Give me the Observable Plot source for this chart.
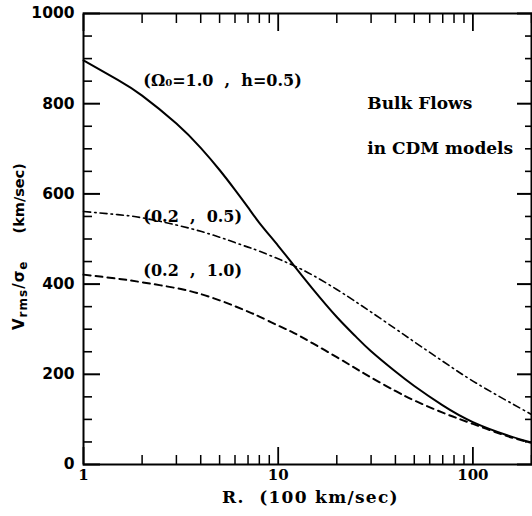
<!DOCTYPE html>
<html>
<head>
<meta charset="utf-8">
<script src="https://cdn.jsdelivr.net/npm/d3@7"></script>
<script src="https://cdn.jsdelivr.net/npm/@observablehq/plot@0.6"></script>
<style>
  html, body { margin: 0; padding: 0; background: #fff; }
  #chart { width: 532px; height: 516px; }
</style>
</head>
<body>
<div id="chart"></div>
<script>
// ---- data ----
const radius   = [1, 1.5, 2, 3, 4, 5, 6, 7, 8, 10, 12, 15, 20, 25, 30, 40, 50, 70, 100, 150, 200];
const vOmega1  = [896, 853, 818, 756, 702, 653, 609, 570, 536, 485, 442, 390, 327, 284, 251, 206, 174, 131, 94, 65, 49];
const vLow05   = [561, 554, 547, 531, 517, 504, 492, 482, 473, 456, 441, 420, 388, 361, 338, 301, 272, 229, 185, 141, 111];
const vLow10   = [421, 412, 404, 391, 378, 364, 351, 339, 328, 308, 292, 269, 238, 213, 193, 163, 142, 115, 90, 63, 48];

const xMajor = [1, 10, 100];
const xMinor = [2, 3, 4, 5, 6, 7, 8, 9, 20, 30, 40, 50, 60, 70, 80, 90, 200];
const yMajor = [0, 200, 400, 600, 800, 1000];
const yMinor = [50, 100, 150, 250, 300, 350, 450, 500, 550, 650, 700, 750, 850, 900, 950];

const curveNotes = ["(Ω₀=1.0  ,  h=0.5)", "(0.2  ,  0.5)", "(0.2  ,  1.0)"];
const curveNoteR = [2.03, 2.03, 2.03];
const curveNoteV = [851, 550, 430];
const titleNotes = ["Bulk Flows", "in CDM models"];
const titleNoteR = [28.7, 28.7];
const titleNoteV = [800, 700];

const xTitle = "R.  (100 km/sec)";
const yTitle = "Vrms/σe (km/sec)";

// ---- tables built from the arrays ----
const solid   = radius.map((r, i) => ({r, v: vOmega1[i]}));
const dashdot = radius.map((r, i) => ({r, v: vLow05[i]}));
const dashed  = radius.map((r, i) => ({r, v: vLow10[i]}));
const notesA  = curveNotes.map((t, i) => ({t, r: curveNoteR[i], v: curveNoteV[i]}));
const notesB  = titleNotes.map((t, i) => ({t, r: titleNoteR[i], v: titleNoteV[i]}));

const serif = "'DejaVu Serif', 'Liberation Serif', serif";
const sans  = "'DejaVu Sans', 'Liberation Sans', sans-serif";

const tk = {fill: "none", label: null, stroke: "black"};
const big = 17, small = 9, bigR = 15, smallR = 7;

const chart = Plot.plot({
  width: 532,
  height: 516,
  marginLeft: 83,
  marginRight: 1,
  marginTop: 13,
  marginBottom: 52,
  style: {fontFamily: serif, color: "black", background: "white"},
  x: {type: "log", domain: [1, 200], axis: null},
  y: {type: "linear", domain: [0, 1000], axis: null},
  marks: [
    // ticks, shifted so that they point inward
    Plot.axisX(xMajor, {...tk, anchor: "bottom", tickSize: big, dy: -big, strokeWidth: 1.8}),
    Plot.axisX(xMinor, {...tk, anchor: "bottom", tickSize: small, dy: -small, strokeWidth: 1.5}),
    Plot.axisX(xMajor, {...tk, anchor: "top", tickSize: big, dy: big, strokeWidth: 1.8}),
    Plot.axisX(xMinor, {...tk, anchor: "top", tickSize: small, dy: small, strokeWidth: 1.5}),
    Plot.axisY(yMajor, {...tk, anchor: "left", tickSize: big, dx: big, strokeWidth: 2}),
    Plot.axisY(yMinor, {...tk, anchor: "left", tickSize: small, dx: small, strokeWidth: 1.6}),
    Plot.axisY(yMajor, {...tk, anchor: "right", tickSize: bigR, dx: -bigR, strokeWidth: 2}),
    Plot.axisY(yMinor, {...tk, anchor: "right", tickSize: smallR, dx: -smallR, strokeWidth: 1.6}),
    // tick labels
    Plot.axisX(xMajor, {anchor: "bottom", tickSize: 0, tickPadding: 5, label: null,
      tickFormat: d => String(d), fontSize: 15, fontWeight: "bold", fontFamily: serif}),
    Plot.axisY(yMajor, {anchor: "left", tickSize: 0, tickPadding: 9, label: null,
      tickFormat: d => String(d), fontSize: 15.5, fontWeight: "bold", fontFamily: sans}),
    Plot.frame({stroke: "black", strokeWidth: 2}),
    // curves
    Plot.line(solid, {x: "r", y: "v", curve: "natural", stroke: "black", strokeWidth: 2}),
    Plot.line(dashdot, {x: "r", y: "v", curve: "natural", stroke: "black", strokeWidth: 1.6,
      strokeDasharray: "7,4,1.5,4"}),
    Plot.line(dashed, {x: "r", y: "v", curve: "natural", stroke: "black", strokeWidth: 2,
      strokeDasharray: "7,5"}),
    // annotations
    Plot.text(notesA, {x: "r", y: "v", text: "t", textAnchor: "start", fontSize: 16,
      fontWeight: "bold", fontFamily: serif, fill: "black"}),
    Plot.text(notesB, {x: "r", y: "v", text: "t", textAnchor: "start", fontSize: 17,
      fontWeight: "bold", fontFamily: serif, fill: "black"}),
    // axis titles
    Plot.text([xTitle], {frameAnchor: "bottom", dx: 3, dy: 38, text: d => d, fontSize: 17,
      fontWeight: "bold", fontFamily: serif, fill: "black"}),
    Plot.text([yTitle], {frameAnchor: "left", dx: -64, dy: 91, rotate: -90, text: d => d,
      textAnchor: "start", fontSize: 15, fontWeight: "bold", fontFamily: sans, fill: "black"})
  ]
});

// letter spacing for the x title
d3.select(chart).selectAll("text").filter(function() { return this.textContent === xTitle; })
  .style("letter-spacing", "1.3px");

// real subscripts in the y title (start-anchored, reading upward)
d3.select(chart).selectAll("text").filter(function() { return this.textContent === yTitle; })
  .each(function() {
    const t = d3.select(this).text(null).attr("text-anchor", "start");
    t.append("tspan").style("letter-spacing", "1px").text("V");
    t.append("tspan").attr("font-size", 12).attr("dy", 3).style("letter-spacing", "1px").text("rms");
    t.append("tspan").attr("dy", -3).style("letter-spacing", "1px").text("/σ");
    t.append("tspan").attr("font-size", 12).attr("dy", 3).text("e");
    t.append("tspan").attr("dy", -3).attr("dx", 28).attr("font-size", 14.5).text("(km/sec)");
  });

document.getElementById("chart").appendChild(chart);
</script>
</body>
</html>
